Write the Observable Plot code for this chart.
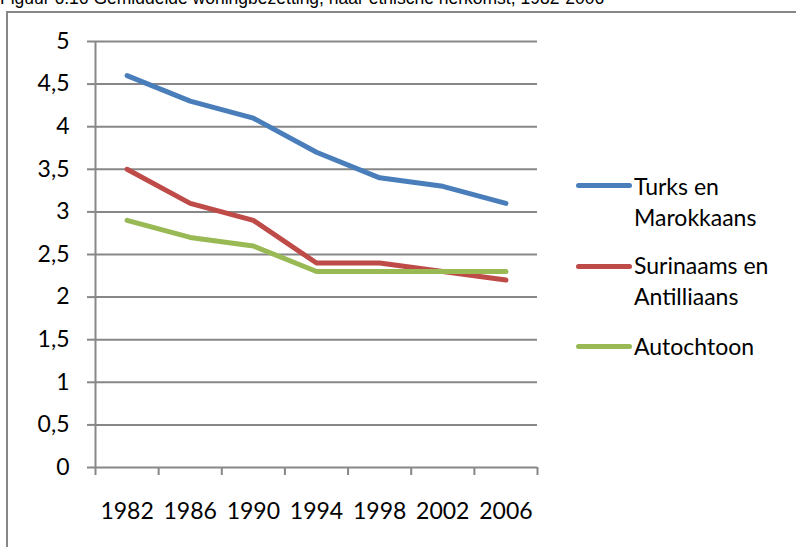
<!DOCTYPE html>
<html>
<head>
<meta charset="utf-8">
<script src="https://cdn.jsdelivr.net/npm/d3@7"></script>
<script src="https://cdn.jsdelivr.net/npm/@observablehq/plot@0.6"></script>
<style>
  html, body { margin: 0; padding: 0; background: #fff; overflow: hidden; width: 796px; height: 547px; }
  #wrap { position: relative; width: 796px; height: 547px; overflow: hidden; }
  #title { position: absolute; left: 0; top: -10px; font-family: "Liberation Sans", Arial, sans-serif; font-size: 17.5px; line-height: 17.5px; white-space: nowrap; color: #000; }
  #frame { position: absolute; left: 6px; top: 11px; width: 1000px; height: 1000px; border: 2px solid #878787; box-sizing: border-box; pointer-events: none; }
  #chart { position: absolute; left: 0; top: 0; }
  .leg-line { position: absolute; height: 5px; width: 56px; border-radius: 3px; }
  .leg-text { position: absolute; font-family: Lato, sans-serif; font-size: 23px; line-height: 31.5px; color: #000; white-space: nowrap; }
</style>
</head>
<body>
<div id="wrap">
  <div id="title"></div>
  <div id="frame"></div>
  <div id="chart"></div>
  <div id="legend"></div>
</div>
<script>
// ---- data ----
const titleText = "Figuur 6.16 Gemiddelde woningbezetting, naar etnische herkomst, 1982-2006";
const years = ["1982", "1986", "1990", "1994", "1998", "2002", "2006"];
const seriesNames = ["Turks en\nMarokkaans", "Surinaams en\nAntilliaans", "Autochtoon"];
const seriesColors = ["#4A7EBB", "#BE4B48", "#98B954"];
const turks = [4.6, 4.3, 4.1, 3.7, 3.4, 3.3, 3.1];
const surinaams = [3.5, 3.1, 2.9, 2.4, 2.4, 2.3, 2.2];
const autochtoon = [2.9, 2.7, 2.6, 2.3, 2.3, 2.3, 2.3];
const yTicks = [0, 0.5, 1, 1.5, 2, 2.5, 3, 3.5, 4, 4.5, 5];

const allSeries = [turks, surinaams, autochtoon];
const gridColor = "#878787";
const centers = years.map((_, i) => i);
const edges = d3.range(-0.5, years.length, 1);
const fmtY = v => String(v).replace(".", ",");

document.getElementById("title").textContent = titleText;

const chart = Plot.plot({
  width: 796,
  height: 547,
  marginLeft: 95,
  marginRight: 259,
  marginTop: 41,
  marginBottom: 80,
  style: { background: "transparent", fontFamily: "Lato, sans-serif", fontSize: "23px", color: "#000" },
  x: { type: "linear", domain: [-0.5, years.length - 0.5], label: null },
  y: { domain: [0, 5], label: null },
  marks: [
    Plot.ruleY(yTicks, { stroke: gridColor, strokeWidth: 2 }),
    Plot.ruleX([edges[0]], { stroke: gridColor, strokeWidth: 2 }),
    Plot.axisY(yTicks, { anchor: "left", tickSize: 8, tickPadding: 18, tickFormat: fmtY, stroke: gridColor, strokeWidth: 2, fill: "#000", fontSize: 23, label: null }),
    Plot.axisX(edges, { anchor: "bottom", tickSize: 8, tickFormat: () => "", stroke: gridColor, strokeWidth: 2, label: null }),
    Plot.axisX(centers, { anchor: "bottom", tickSize: 0, tickPadding: 35, tickFormat: i => years[i], fill: "#000", fontSize: 23, label: null }),
    ...allSeries.map((s, k) => Plot.line(s, {
      x: (d, i) => i,
      y: d => d,
      stroke: seriesColors[k],
      strokeWidth: 5,
      strokeLinecap: "round",
      strokeLinejoin: "round"
    }))
  ]
});
document.getElementById("chart").appendChild(chart);

// ---- legend ----
const legend = document.getElementById("legend");
const legTops = [170.6, 249.6, 330.6];
const lineTops = [183.2, 263.5, 344.2];
seriesNames.forEach((name, k) => {
  const ln = document.createElement("div");
  ln.className = "leg-line";
  ln.style.left = "576px";
  ln.style.top = lineTops[k] + "px";
  ln.style.background = seriesColors[k];
  legend.appendChild(ln);
  const tx = document.createElement("div");
  tx.className = "leg-text";
  tx.style.left = "634px";
  tx.style.top = legTops[k] + "px";
  tx.innerHTML = name.split("\n").join("<br>");
  legend.appendChild(tx);
});
</script>
</body>
</html>
